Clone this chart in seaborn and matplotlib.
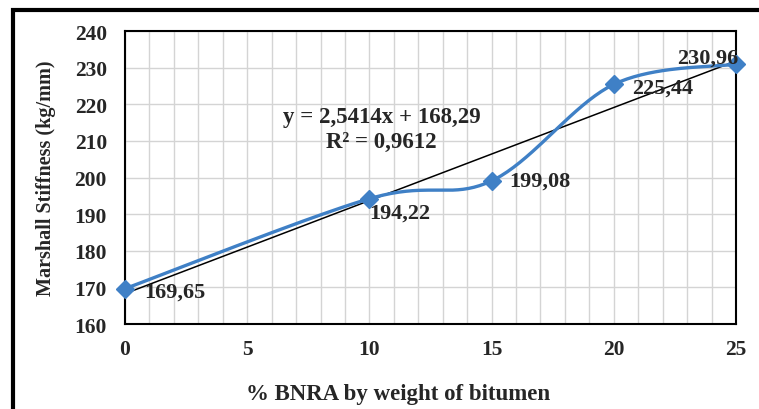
import numpy as np
import pandas as pd
import matplotlib.pyplot as plt
import seaborn as sns
from matplotlib.patches import Rectangle

sns.set_style("whitegrid")
plt.rcParams['font.family'] = ['Liberation Serif', 'DejaVu Serif']

# data
bnra = [0, 10, 15, 20, 25]
stiffness = [169.65, 194.22, 199.08, 225.44, 230.96]
labels = ["169,65", "194,22", "199,08", "225,44", "230,96"]
eq_text = "y = 2,5414x + 168,29\nR² = 0,9612"

df = pd.DataFrame({"x": bnra, "y": stiffness})

# Excel-like smoothed line (catmull-rom as cubic bezier segments)
def smooth(xs, ys, n=40):
    p = np.column_stack([xs, ys]).astype(float)
    pts = np.vstack([p[0], p, p[-1]])
    out = []
    t = np.linspace(0, 1, n)[:, None]
    for i in range(1, len(pts) - 2):
        p0, p1, p2, p3 = pts[i - 1], pts[i], pts[i + 1], pts[i + 2]
        b1 = p1 + (p2 - p0) / 6
        b2 = p2 - (p3 - p1) / 6
        seg = ((1 - t) ** 3) * p1 + 3 * ((1 - t) ** 2) * t * b1 + 3 * (1 - t) * t ** 2 * b2 + t ** 3 * p2
        out.append(seg if i == 1 else seg[1:])
    return np.vstack(out)

curve = pd.DataFrame(smooth(bnra, stiffness), columns=["x", "y"])

fig = plt.figure(figsize=(7.59, 4.10), dpi=100)
ax = fig.add_axes([0.1647, 0.2073, 0.805, 0.7146])

blue = "#3F80C6"
sns.regplot(x="x", y="y", data=df, ax=ax, scatter=False, ci=None, truncate=True,
            line_kws={"color": "black", "lw": 1.1, "zorder": 3})
sns.lineplot(x="x", y="y", data=curve, ax=ax, sort=False, color=blue, lw=2.4, zorder=4)
ax.plot(bnra, stiffness, linestyle="none", marker="D", ms=9.5, color=blue, zorder=5, clip_on=False)

ax.set_xlim(0, 25)
ax.set_ylim(160, 240)
ax.set_xticks([0, 5, 10, 15, 20, 25])
ax.set_xticks(np.arange(0, 26, 1), minor=True)
ax.set_yticks(np.arange(160, 241, 10))
ax.grid(True, which="both", color="#d4d4d4", lw=1)
ax.set_axisbelow(True)
for s in ax.spines.values():
    s.set_color("black")
    s.set_linewidth(1.5)
ax.tick_params(axis="both", which="both", length=0, labelsize=15.5)
ax.tick_params(axis="x", pad=11)
ax.tick_params(axis="y", pad=13)
for lab in ax.get_xticklabels() + ax.get_yticklabels():
    lab.set_fontweight("bold")

ax.set_xlabel("% BNRA by weight of bitumen", fontsize=16.5, fontweight="bold", labelpad=12)
ax.xaxis.set_label_coords(0.447, -0.2)
ax.set_ylabel("Marshall Stiffness (kg/mm)", fontsize=14.5, fontweight="bold", labelpad=13)

offsets = [(14, -2), (0, -10), (13, 0), (13, -2), (2, 5)]
aligns = ["left", "left", "left", "left", "right"]
for x, y, t, off, ha in zip(bnra, stiffness, labels, offsets, aligns):
    ax.annotate(t, (x, y), xytext=off, textcoords="offset points", ha=ha, va="center",
                fontsize=16, fontweight="bold", zorder=6, annotation_clip=False)

ax.text(10.5, 213.3, eq_text, ha="center", va="center", fontsize=16.5,
        fontweight="bold", linespacing=1.25, zorder=6)

# thick outer frame (cut by image edge at right and bottom)
fig.patches.append(Rectangle((13 / 759, -0.1), 1.2, 1 - 11 / 410 + 0.1,
                             transform=fig.transFigure, fill=False, lw=3, ec="black"))

fig.savefig("out.png", dpi=100)
